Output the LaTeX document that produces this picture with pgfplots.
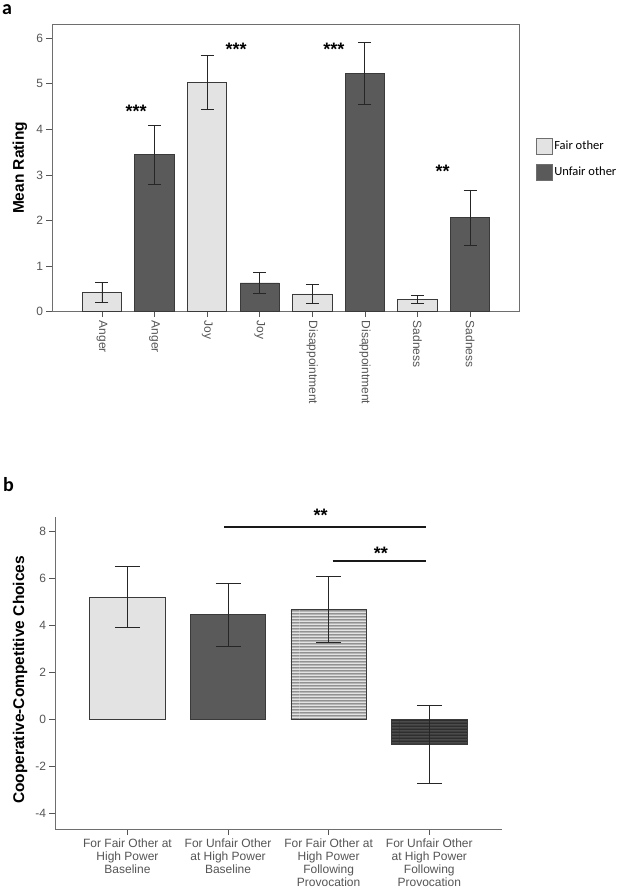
\documentclass[border=0pt]{standalone}
\usepackage{pgfplots}
\pgfplotsset{compat=1.18}
\usepackage{fontspec}
\setmainfont{Liberation Sans}
\newfontfamily\carlito{Carlito}
\usetikzlibrary{patterns}
\pgfdeclarepatternformonly{hlinesthick}{\pgfpoint{0pt}{0pt}}{\pgfpoint{100pt}{3pt}}{\pgfpoint{100pt}{3pt}}%
{\pgfsetlinewidth{1.4pt}\pgfpathmoveto{\pgfpoint{0pt}{1.5pt}}\pgfpathlineto{\pgfpoint{100pt}{1.5pt}}\pgfusepath{stroke}}
\definecolor{fairc}{HTML}{E3E3E3}
\definecolor{unfairc}{HTML}{5A5A5A}
\definecolor{edgec}{HTML}{3A3A3A}
\definecolor{axc}{HTML}{6E6E6E}
\definecolor{tickc}{HTML}{555555}
\definecolor{stripec}{HTML}{666666}
\definecolor{darkbar}{HTML}{2E2E2E}
\definecolor{darkstripe}{HTML}{5C5C5C}
\pgfplotsset{
  errstyle/.style={error bars/.cd, y dir=both, y explicit,
    error bar style={line width=0.9pt, color=black!85},
    error mark options={rotate=90, line width=0.9pt, color=black!85, mark size=#1}},
}
\tikzset{stars/.style={font=\bfseries\fontsize{18}{18}\selectfont, anchor=base, yshift=-10.3pt, inner sep=0pt}}
\begin{document}
\begin{tikzpicture}
\path[use as bounding box] (0pt,0pt) rectangle (625pt,891pt);
\node[anchor=north west, inner sep=0pt, font=\carlito\bfseries\fontsize{20}{20}\selectfont] at (2pt,887pt) {a};
\node[anchor=north west, inner sep=0pt, font=\carlito\bfseries\fontsize{20}{20}\selectfont] at (3pt,414pt) {b};

% ---------------- Panel a ----------------
\begin{axis}[
  at={(52pt,579.3pt)}, anchor=south west, scale only axis,
  width=467pt, height=287.7pt,
  xmin=-0.95, xmax=7.93, ymin=0, ymax=6.31,
  clip=false,
  /pgf/number format/assume math mode=true,
  axis line style={axc, line width=0.8pt},
  tick pos=left, tick align=outside, major tick length=5.5pt,
  tick style={tickc, line width=0.8pt},
  ytick={0,1,2,3,4,5,6},
  xtick={0,1,2,3,4,5,6,7},
  xticklabels={Anger,Anger,Joy,Joy,Disappointment,Disappointment,Sadness,Sadness},
  xticklabel style={rotate=-90, anchor=west, font=\fontsize{12}{13}\selectfont, text=tickc},
  yticklabel style={font=\fontsize{12}{13}\selectfont, text=tickc},
  ylabel={Mean Rating},
  ylabel style={at={(axis description cs:-0.0685,0.5)}, anchor=center, font=\bfseries\fontsize{15.5}{16}\selectfont},
  bar width=0.75,
  legend style={at={(1.036,0.605)}, anchor=north west, draw=none, fill=none,
    font=\carlito\fontsize{12.5}{14}\selectfont, row sep=9pt, inner sep=0pt,
    nodes={inner sep=1.5pt}},
  legend cell align=left,
]
\addplot[ybar, bar shift=0pt, fill=fairc, draw=edgec, line width=0.8pt, forget plot, errstyle=6.5pt]
  coordinates {(0,0.43) +- (0,0.22) (2,5.03) +- (0,0.60) (4,0.39) +- (0,0.205) (6,0.27) +- (0,0.09)};
\addplot[ybar, bar shift=0pt, fill=unfairc, draw=edgec, line width=0.8pt, forget plot, errstyle=6.5pt]
  coordinates {(1,3.44) +- (0,0.64) (3,0.63) +- (0,0.23) (5,5.22) +- (0,0.68) (7,2.06) +- (0,0.61)};
\addlegendimage{legend image code/.code={\draw[fill=fairc, draw=axc, line width=0.8pt] (0pt,-8pt) rectangle (16pt,8pt);}}
\addlegendentry{Fair other}
\addlegendimage{legend image code/.code={\draw[fill=unfairc, draw=axc, line width=0.8pt] (0pt,-8pt) rectangle (16pt,8pt);}}
\addlegendentry{Unfair other}
\node[stars] at (axis cs:0.65,4.48) {***};
\node[stars] at (axis cs:2.55,5.85) {***};
\node[stars] at (axis cs:4.41,5.85) {***};
\node[stars] at (axis cs:6.48,3.175) {**};
\end{axis}

% ---------------- Panel b ----------------
\begin{axis}[
  at={(55pt,61.7pt)}, anchor=south west, scale only axis,
  width=446.7pt, height=312.6pt,
  xmin=-0.72, xmax=3.72, ymin=-4.66, ymax=8.64,
  clip=false,
  /pgf/number format/assume math mode=true,
  axis lines*=left,
  axis line style={axc, line width=0.8pt},
  tick align=outside, major tick length=5.5pt,
  tick style={tickc, line width=0.8pt},
  ytick={-4,-2,0,2,4,6,8},
  yticklabels={-4,-2,0,2,4,6,8},
  xtick={0,1,2,3},
  xticklabels={{For Fair Other at\\High Power\\Baseline},{For Unfair Other\\at High Power\\Baseline},{For Fair Other at\\High Power\\Following\\Provocation},{For Unfair Other\\at High Power\\Following\\Provocation}},
  xticklabel style={align=center, anchor=north, font=\fontsize{12}{13}\selectfont, text=tickc},
  yticklabel style={font=\fontsize{12}{13}\selectfont, text=tickc},
  ylabel={Cooperative-Competitive Choices},
  ylabel style={at={(axis description cs:-0.078,0.478)}, anchor=center, font=\bfseries\fontsize{15.5}{16}\selectfont},
  bar width=0.75,
]
\addplot[ybar, bar shift=0pt, fill=fairc, draw=edgec, line width=0.8pt, errstyle=12.5pt]
  coordinates {(0,5.21) +- (0,1.30)};
\addplot[ybar, bar shift=0pt, fill=unfairc, draw=edgec, line width=0.8pt, errstyle=12.5pt]
  coordinates {(1,4.47) +- (0,1.33)};
\addplot[ybar, bar shift=0pt, fill=fairc, draw=edgec, line width=0.8pt,
  postaction={pattern=hlinesthick, pattern color=stripec}, errstyle=12.5pt]
  coordinates {(2,4.71) +- (0,1.40)};
\addplot[ybar, bar shift=0pt, fill=darkbar, draw=edgec, line width=0.8pt,
  postaction={pattern=hlinesthick, pattern color=darkstripe}, errstyle=12.5pt]
  coordinates {(3,-1.05) +- (0,1.67)};
\draw[line width=1.8pt, black!90] (axis cs:0.96,8.21) -- (axis cs:2.97,8.21);
\draw[line width=1.8pt, black!90] (axis cs:2.04,6.74) -- (axis cs:2.97,6.74);
\node[stars] at (axis cs:1.92,8.88) {**};
\node[stars] at (axis cs:2.52,7.26) {**};
\end{axis}
\end{tikzpicture}
\end{document}
